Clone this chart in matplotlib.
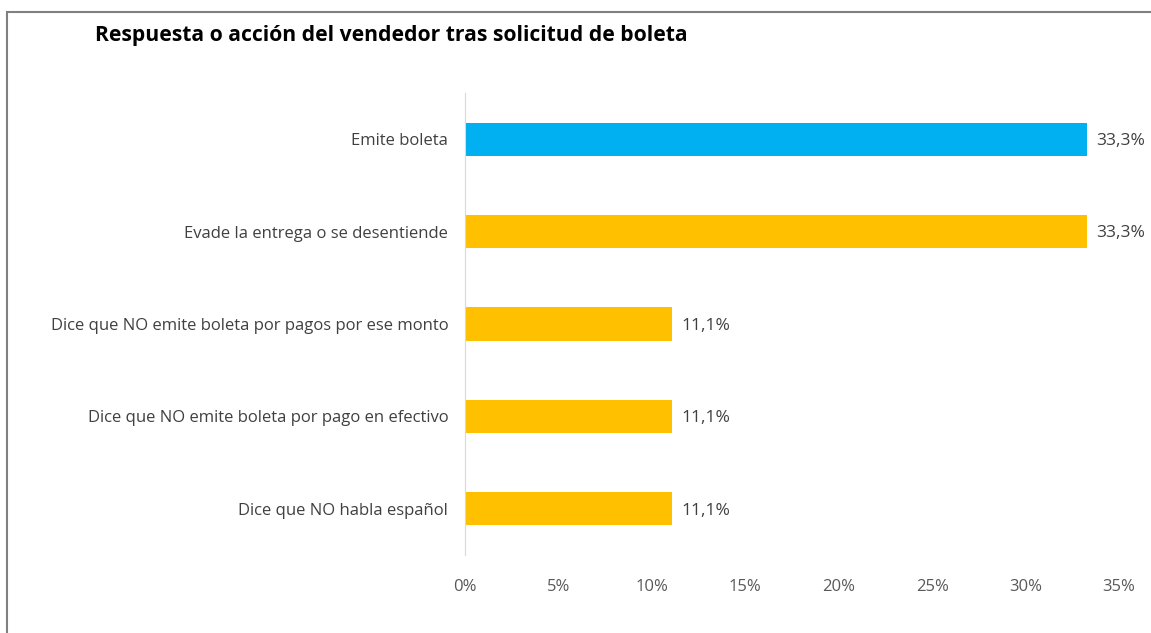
import matplotlib.pyplot as plt
from matplotlib.patches import Rectangle
from matplotlib.ticker import FuncFormatter

# Datos
categorias = ['Emite boleta',
              'Evade la entrega o se desentiende',
              'Dice que NO emite boleta por pagos por ese monto',
              'Dice que NO emite boleta por pago en efectivo',
              'Dice que NO habla español']
valores = [33.3, 33.3, 11.1, 11.1, 11.1]
colores = ['#00B0F0', '#FFC000', '#FFC000', '#FFC000', '#FFC000']
ticks_x = [0, 5, 10, 15, 20, 25, 30, 35]

plt.rcParams['font.family'] = ['Open Sans', 'DejaVu Sans']

W, H = 1151, 633
fig = plt.figure(figsize=(W / 100, H / 100), dpi=100)

# Ejes: x=0 en 465px, 35% en 1119px; y de 93px a 555px
ax = fig.add_axes([465 / W, 1 - 555 / H, (1119 - 465) / W, (555 - 93) / H])

pos = list(range(len(categorias)))
ax.barh(pos, valores, height=0.36, color=colores)
ax.set_ylim(len(categorias) - 0.5, -0.5)
ax.set_xlim(0, 35)

for p, v in zip(pos, valores):
    ax.text(v + 0.5, p + 0.02, f'{v:.1f}%'.replace('.', ','), va='center', ha='left',
            fontsize=12.5, color='#404040')

ax.set_yticks(pos)
ax.set_yticklabels(categorias, fontsize=12, color='#404040')
ax.set_xticks(ticks_x)
ax.xaxis.set_major_formatter(FuncFormatter(lambda x, _: f'{x:.0f}%'))
ax.tick_params(axis='x', length=0, pad=17, labelsize=12, labelcolor='#595959')
ax.tick_params(axis='y', length=0, pad=12)

for s in ['top', 'right', 'bottom']:
    ax.spines[s].set_visible(False)
ax.spines['left'].set_color('#D9D9D9')

fig.text(95 / W, 1 - 35 / H, 'Respuesta o acción del vendedor tras solicitud de boleta',
         fontsize=15.25, fontweight='bold', va='center', ha='left', color='black')

# Borde del gráfico
fig.patches.append(Rectangle((7 / W, -0.1), 1.2, 1.1 - 12 / H, transform=fig.transFigure,
                             fill=False, edgecolor='#808080', linewidth=1.5))

fig.savefig('out.png', dpi=100)
